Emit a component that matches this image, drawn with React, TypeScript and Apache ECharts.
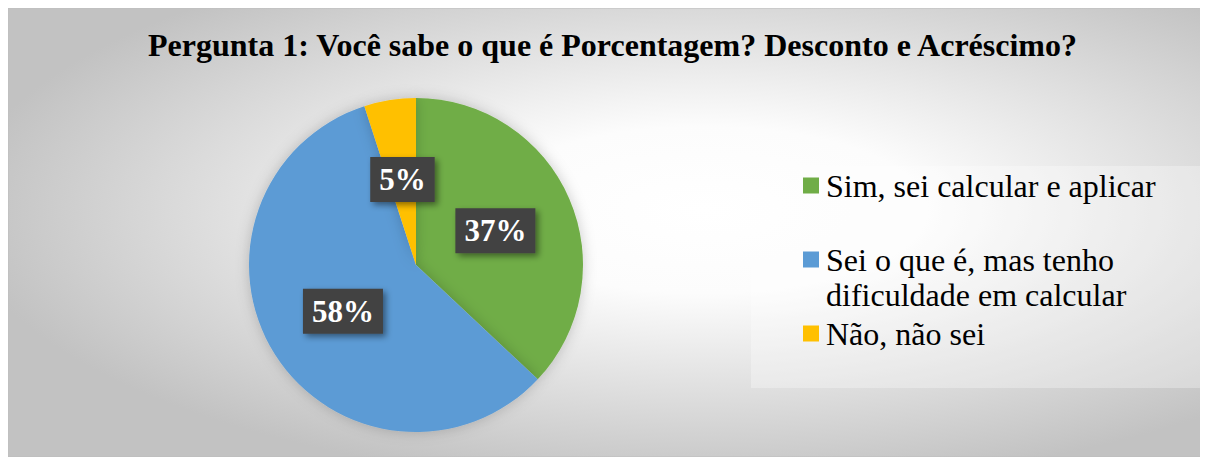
import React, { useEffect, useRef } from "react";
import * as echarts from "echarts";

const titleText = "Pergunta 1: Você sabe o que é Porcentagem? Desconto e Acréscimo?";
const categories = [
  "Sim, sei calcular e aplicar",
  "Sei o que é, mas tenho dificuldade em calcular",
  "Não, não sei",
];
const legendLabels = [
  "Sim, sei calcular e aplicar",
  " \nSei o que é, mas tenho\ndificuldade em calcular",
  "Não, não sei",
];
const values = [37, 58, 5];
const colors = ["#70AD47", "#5B9BD5", "#FFC000"];

export default function App() {
  const ref = useRef<HTMLDivElement>(null);
  useEffect(() => {
    if (!ref.current) return;
    const chart = echarts.init(ref.current, null, { renderer: "svg" });
    const serif = "'Liberation Serif', 'Times New Roman', serif";
    chart.setOption({
      animation: false,
      title: {
        text: titleText,
        left: 135,
        top: 16,
        textStyle: { fontFamily: serif, fontWeight: "bold", fontSize: 32, color: "#000" },
      },
      graphic: [
        {
          type: "rect",
          z: -10,
          silent: true,
          shape: { x: 0, y: 0, width: 1200, height: 449 },
          style: {
            fill: {
              type: "radial",
              x: 0.58,
              y: 0.45,
              r: 0.62,
              colorStops: [
                { offset: 0, color: "#ffffff" },
                { offset: 0.3, color: "#fcfcfc" },
                { offset: 1, color: "#c2c2c2" },
              ],
            },
            stroke: "#bdbdbd",
            lineWidth: 1,
          },
        },
        {
          type: "rect",
          z: 1,
          silent: true,
          shape: { x: 743, y: 158, width: 453, height: 222 },
          style: { fill: "rgba(255,255,255,0.3)" },
        },
      ],
      legend: {
        orient: "vertical",
        left: 795,
        top: 160,
        padding: 0,
        itemGap: 4,
        itemWidth: 16,
        itemHeight: 16,
        icon: "rect",
        selectedMode: false,
        formatter: (name: string) => legendLabels[categories.indexOf(name)] ?? name,
        textStyle: { fontFamily: serif, fontSize: 32, lineHeight: 35, color: "#000", padding: [0, 0, 0, 2] },
        data: categories,
      },
      series: [
        {
          type: "pie",
          center: [408, 257],
          radius: 167,
          startAngle: 90,
          clockwise: true,
          color: colors,
          itemStyle: { shadowBlur: 14, shadowColor: "rgba(0,0,0,0.2)" },
          emphasis: { disabled: true },
          label: {
            show: true,
            position: "inside",
            formatter: "{d}%",
            fontFamily: serif,
            fontWeight: "bold",
            fontSize: 31,
            lineHeight: 33,
            color: "#fff",
            backgroundColor: "#424242",
            padding: [6, 9, 6, 9],
            shadowColor: "rgba(0,0,0,0.45)",
            shadowBlur: 6,
            shadowOffsetX: 3,
            shadowOffsetY: 3,
          },
          labelLine: { show: false },
          data: categories.map((c, i) => ({ name: c, value: values[i] })),
        },
      ],
    });
    return () => chart.dispose();
  }, []);
  return <div ref={ref} style={{ width: 1200, height: 449 }} />;
}
